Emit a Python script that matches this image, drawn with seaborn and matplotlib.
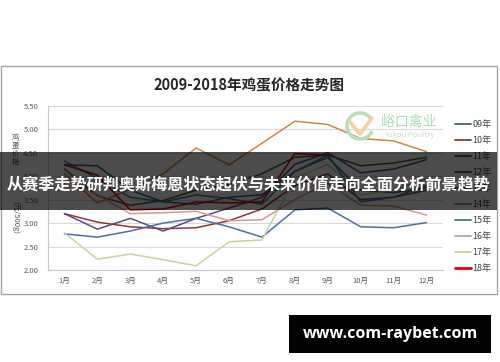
import numpy as np
import pandas as pd
import seaborn as sns
import matplotlib.pyplot as plt
from matplotlib.patches import Rectangle, Arc
from matplotlib.lines import Line2D

months = ["1月", "2月", "3月", "4月", "5月", "6月", "7月", "8月", "9月", "10月", "11月", "12月"]
years = ["09年", "10年", "11年", "12年", "13年", "14年", "15年", "16年", "17年", "18年"]
nan = np.nan
y09 = [4.24, 4.22, 3.70, 3.45, 3.40, 3.55, 3.60, 4.10, 4.40, 3.70, 3.65, 3.75]
y10 = [3.20, 3.02, 2.92, 2.88, 2.90, 3.05, 3.30, 3.80, 4.05, 3.50, 3.55, 3.70]
y11 = [4.15, 3.58, 3.38, 3.48, 3.70, 3.82, 4.05, 4.40, 4.45, 4.22, 4.28, 4.40]
y12 = [3.20, 2.87, 3.10, 2.83, 3.10, 3.32, 3.55, 4.25, 4.50, 4.07, 4.15, 4.35]
y13 = [4.32, 3.95, 3.55, 3.45, 3.60, 3.52, 3.40, 4.10, 4.45, 3.45, 3.55, 3.80]
y14 = [4.05, 3.43, 3.72, 4.05, 4.60, 4.24, 4.70, 5.17, 5.10, 4.80, 4.75, 4.52]
y15 = [2.77, 2.70, 2.83, 3.00, 3.10, 2.92, 2.70, 3.28, 3.32, 2.92, 2.90, 3.01]
y16 = [3.95, 3.60, 3.20, 3.22, 3.25, 3.05, 3.07, 3.50, 3.85, 3.38, 3.36, 3.17]
y17 = [2.79, 2.23, 2.34, 2.22, 2.09, 2.60, 2.64, 3.95, 4.25, 3.60, 3.70, 3.95]
y18 = [4.24, 4.02, 3.28, 3.30, 3.45, 3.43, 3.45, 4.48, 4.45, nan, nan, nan]
series = [y09, y10, y11, y12, y13, y14, y15, y16, y17, y18]
colors = ["#3e5f8f", "#943634", "#4f6228", "#5a4a86", "#31859c",
          "#d0863e", "#4a6fa8", "#d99694", "#c3d69b", "#e00000"]
palette = dict(zip(years, colors))

rows = []
for yr, vals in zip(years, series):
    for i, v in enumerate(vals):
        rows.append({"year": yr, "m": i + 1, "price": v})
df = pd.DataFrame(rows)

sns.set_theme(style="white")
plt.rcParams['font.family'] = ['Noto Sans CJK SC', 'DejaVu Sans']

fig = plt.figure(figsize=(5.0, 3.62), dpi=100)
fig.patch.set_facecolor("white")
ax = fig.add_axes([0.096, 1 - 270 / 362, 0.79, (270 - 105.7) / 362])

sns.lineplot(data=df, x="m", y="price", hue="year", palette=palette,
             linewidth=1.1, ax=ax, sort=False, legend=True)

ax.set_xlim(0.5, 12.5)
ax.set_ylim(2.0, 5.5)
yt = np.arange(2.0, 5.51, 0.5)
ax.set_yticks(yt)
ax.set_yticklabels([f"{v:.2f}" for v in yt], fontsize=5.5, color="#595959")
ax.set_xticks(range(1, 13))
ax.set_xticklabels(months, fontsize=5.5, color="#595959")
ax.tick_params(axis="y", length=0, pad=7)
ax.tick_params(axis="x", length=0, pad=5)
ax.set_xlabel("")
ax.set_ylabel("")
ax.yaxis.grid(True, color="#d9d9d9", linewidth=0.8)
ax.set_axisbelow(True)
for s in ["top", "right"]:
    ax.spines[s].set_visible(False)
for s in ["left", "bottom"]:
    ax.spines[s].set_color("#c8c8c8")
    ax.spines[s].set_linewidth(0.8)

handles, labels = ax.get_legend_handles_labels()
for h in handles:
    h.set_linewidth(1.3)
handles[-1].set_linewidth(2.0)
ax.legend(handles, labels, loc="center left", bbox_to_anchor=(1.02, 0.448),
          frameon=False, fontsize=6.5, handlelength=1.8, handletextpad=0.2,
          labelspacing=0.77, borderaxespad=0)
for t in ax.get_legend().get_texts():
    t.set_color("#404040")

# chart frame
fig.add_artist(Rectangle((0.002, 1 - 294 / 362), 0.992, (294 - 66) / 362,
                         transform=fig.transFigure, fill=False,
                         edgecolor="#a6a6a6", linewidth=1.0, zorder=1))

# title
fig.text(0.497, 1 - 85 / 362, "2009-2018年鸡蛋价格走势图", ha="center", va="center",
         fontsize=10.5, fontweight="bold", color="#262626")

# y label
fig.text(0.03, 1 - 150 / 362, "鸡\n蛋\n价\n格", ha="center", va="center",
         fontsize=5.3, color="#595959", linespacing=1.0)
fig.text(0.03, 1 - 201 / 362, "(元/500g)", ha="center", va="top",
         fontsize=5.5, color="#595959", rotation=270)

# watermark logo
fig.add_artist(Arc((360 / 500, 1 - 126 / 362), 26 / 500, 26 / 362, theta1=40, theta2=330,
                   transform=fig.transFigure, color="#b5e0bb", linewidth=2.6, zorder=3))
fig.add_artist(Line2D([350 / 500, 360 / 500, 372 / 500],
                      [1 - 122 / 362, 1 - 134 / 362, 1 - 118 / 362],
                      transform=fig.transFigure, color="#f6d0a0", linewidth=2.6, zorder=3))
fig.text(0.818, 1 - 121.5 / 362, "峪口禽业", ha="center", va="center",
         fontsize=10, color="#a8dcb0", zorder=3)
fig.text(0.818, 1 - 135 / 362, "Yukou Poultry", ha="center", va="center",
         fontsize=5.5, color="#c9dccb", zorder=3)

# overlay banner
fig.add_artist(Rectangle((0, 1 - 210 / 362), 0.994, 58 / 362,
                         transform=fig.transFigure, facecolor="black",
                         edgecolor="none", alpha=0.7, zorder=10))
fig.text(0.498, 1 - 184 / 362, "从赛季走势研判奥斯梅恩状态起伏与未来价值走向全面分析前景趋势",
         ha="center", va="center", fontsize=11.6, fontweight="bold",
         color="white", zorder=11)

# bottom url box
fig.add_artist(Rectangle((289 / 500, 1 - 353 / 362), 202 / 500, 38 / 362,
                         transform=fig.transFigure, facecolor="black",
                         edgecolor="none", zorder=10))
fig.text(390 / 500, 1 - 334 / 362, "www.com-raybet.com", ha="center", va="center",
         fontsize=11.5, fontweight="bold", color="white", zorder=11,
         family=["Open Sans", "DejaVu Sans"])

fig.savefig("out.png", dpi=100, facecolor="white")
